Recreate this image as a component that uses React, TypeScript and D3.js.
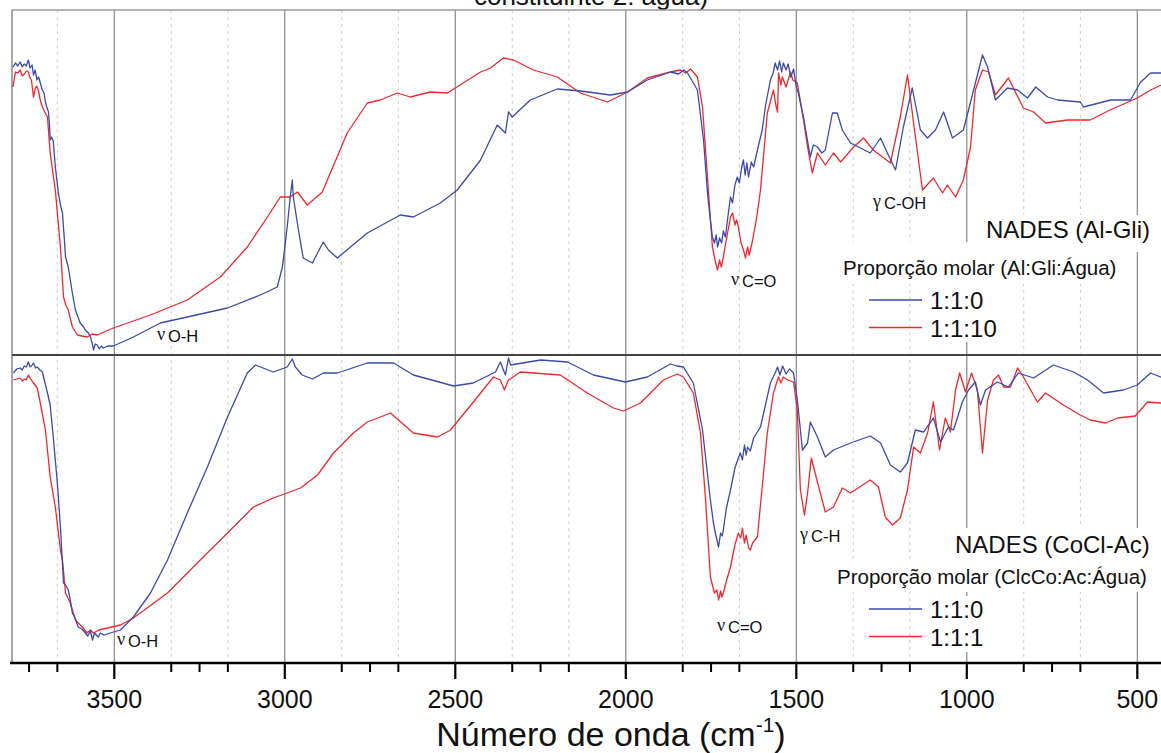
import React from 'react';
import * as d3 from 'd3';

type Pt = [number, number];

// FTIR spectra: [wavenumber (cm-1), transmittance (a.u.)]
// Panel 1 — NADES (Al-Gli), molar ratio Al:Gli:Água
const alGli110: Pt[] = [
  [3797, 288], [3790, 292], [3783, 289], [3776, 293], [3770, 288], [3764, 291], [3758, 289], [3752, 295],
  [3747, 287], [3741, 290], [3737, 280], [3732, 285], [3727, 275], [3722, 278], [3717, 272], [3711, 265],
  [3706, 262], [3702, 253], [3698, 248], [3693, 243], [3690, 230], [3688, 215], [3684, 218], [3679, 214],
  [3673, 188], [3664, 162], [3658, 150], [3652, 142], [3647, 118], [3643, 98], [3635, 88], [3629, 75],
  [3623, 62], [3614, 45], [3600, 32], [3590, 28], [3585, 25], [3576, 22], [3570, 18], [3565, 12],
  [3561, 5], [3556, 11], [3550, 10], [3544, 6], [3538, 9], [3532, 7], [3520, 9], [3503, 9],
  [3444, 18], [3365, 32], [3286, 38], [3168, 47], [3072, 60], [3022, 68], [3007, 88], [2993, 128],
  [2984, 158], [2978, 175], [2975, 158], [2960, 125], [2946, 97], [2919, 92], [2904, 102], [2887, 113],
  [2872, 105], [2846, 97], [2758, 122], [2661, 140], [2623, 138], [2544, 152], [2494, 165], [2426, 195],
  [2377, 230], [2353, 222], [2344, 243], [2333, 238], [2280, 255], [2201, 266], [2133, 264], [2045, 260],
  [1995, 263], [1937, 275], [1869, 283], [1845, 281], [1830, 285], [1819, 282], [1790, 265], [1772, 215],
  [1760, 160], [1752, 135], [1746, 118], [1740, 112], [1735, 120], [1731, 108], [1725, 117], [1719, 112],
  [1714, 124], [1708, 118], [1700, 140], [1693, 158], [1687, 152], [1680, 170], [1673, 178], [1667, 172],
  [1660, 188], [1655, 195], [1650, 180], [1645, 192], [1640, 178], [1632, 193], [1625, 188], [1614, 205],
  [1600, 225], [1590, 250], [1576, 275], [1568, 282], [1562, 292], [1555, 285], [1549, 294], [1543, 283],
  [1538, 292], [1530, 285], [1524, 291], [1516, 278], [1508, 286], [1500, 268], [1494, 262], [1479, 238],
  [1459, 198], [1450, 210], [1438, 208], [1425, 202], [1415, 205], [1394, 242], [1380, 242], [1365, 225],
  [1341, 212], [1283, 202], [1253, 217], [1233, 202], [1209, 185], [1186, 228], [1160, 267], [1136, 225],
  [1115, 217], [1092, 225], [1068, 243], [1042, 217], [1010, 225], [980, 265], [954, 300], [939, 288],
  [916, 255], [881, 267], [851, 265], [822, 257], [798, 268], [763, 258], [734, 255], [667, 253],
  [658, 248], [578, 255], [520, 255], [490, 273], [461, 282], [417, 282],
];

const alGli1110: Pt[] = [
  [3797, 268], [3790, 283], [3783, 282], [3776, 285], [3770, 279], [3764, 281], [3758, 284], [3752, 283],
  [3747, 277], [3743, 275], [3737, 258], [3732, 266], [3728, 269], [3723, 265], [3717, 255], [3711, 248],
  [3704, 243], [3696, 238], [3688, 202], [3673, 165], [3658, 108], [3649, 58], [3642, 50], [3635, 45],
  [3623, 28], [3608, 20], [3595, 19], [3579, 18], [3565, 21], [3550, 20], [3530, 23], [3503, 27],
  [3394, 40], [3286, 55], [3189, 78], [3110, 108], [3051, 138], [3013, 158], [2984, 158], [2963, 163],
  [2934, 150], [2890, 163], [2817, 222], [2758, 252], [2720, 255], [2670, 262], [2632, 258], [2573, 263],
  [2523, 262], [2426, 283], [2397, 287], [2359, 297], [2329, 295], [2271, 285], [2201, 278], [2133, 262],
  [2054, 253], [1995, 263], [1937, 277], [1869, 283], [1840, 285], [1825, 282], [1810, 286], [1790, 278],
  [1775, 248], [1760, 175], [1746, 108], [1735, 90], [1731, 85], [1725, 95], [1720, 88], [1714, 98],
  [1708, 110], [1700, 125], [1693, 138], [1687, 142], [1680, 130], [1675, 135], [1670, 128], [1662, 112],
  [1655, 105], [1649, 97], [1643, 108], [1638, 100], [1628, 115], [1615, 140], [1605, 165], [1585, 242],
  [1567, 265], [1560, 250], [1555, 243], [1552, 282], [1545, 270], [1541, 278], [1530, 268], [1517, 283],
  [1510, 275], [1497, 272], [1479, 235], [1467, 208], [1453, 182], [1438, 202], [1415, 190], [1391, 202],
  [1370, 193], [1332, 208], [1303, 217], [1274, 205], [1224, 192], [1195, 238], [1174, 280], [1156, 232],
  [1130, 165], [1098, 177], [1071, 162], [1057, 170], [1033, 158], [1010, 175], [989, 208], [975, 265],
  [954, 285], [936, 283], [916, 260], [878, 277], [834, 247], [804, 243], [769, 232], [705, 235],
  [638, 235], [580, 245], [500, 257], [461, 265], [417, 272],
];

// Panel 2 — NADES (CoCl-Ac), molar ratio ClcCo:Ac:Água
const coclAc110: Pt[] = [
  [3796, 290], [3786, 294], [3776, 295], [3770, 293], [3764, 297], [3758, 296], [3752, 301], [3747, 296],
  [3743, 297], [3737, 300], [3731, 295], [3726, 296], [3718, 293], [3711, 291], [3696, 270], [3688, 258],
  [3679, 226], [3667, 180], [3658, 136], [3649, 80], [3643, 78], [3635, 73], [3630, 65], [3623, 50],
  [3615, 45], [3606, 36], [3595, 34], [3585, 30], [3578, 27], [3570, 32], [3564, 23], [3558, 30],
  [3553, 28], [3547, 26], [3541, 30], [3530, 28], [3512, 30], [3482, 33], [3444, 46], [3394, 70],
  [3344, 103], [3286, 150], [3227, 196], [3168, 246], [3110, 290], [3086, 298], [3034, 291], [2993, 296],
  [2978, 304], [2969, 296], [2949, 288], [2919, 284], [2887, 290], [2846, 290], [2758, 300], [2681, 300],
  [2623, 288], [2505, 277], [2447, 280], [2382, 291], [2368, 301], [2353, 288], [2344, 305], [2338, 298],
  [2250, 303], [2171, 301], [2095, 288], [2001, 281], [1937, 286], [1869, 299], [1850, 297], [1831, 296],
  [1802, 280], [1775, 233], [1752, 163], [1743, 140], [1736, 128], [1728, 116], [1722, 130], [1717, 127],
  [1714, 133], [1705, 155], [1693, 173], [1680, 195], [1670, 205], [1664, 210], [1658, 203], [1652, 218],
  [1647, 208], [1643, 216], [1635, 212], [1625, 225], [1605, 236], [1576, 280], [1562, 290], [1555, 296],
  [1548, 288], [1540, 297], [1530, 289], [1520, 294], [1508, 290], [1497, 263], [1482, 213], [1467, 220],
  [1459, 241], [1438, 226], [1415, 206], [1391, 213], [1341, 220], [1283, 227], [1253, 220], [1224, 198],
  [1195, 191], [1174, 200], [1151, 233], [1127, 231], [1098, 245], [1077, 221], [1054, 236], [1039, 233],
  [1013, 261], [995, 273], [975, 281], [960, 258], [945, 273], [910, 281], [878, 276], [849, 290],
  [804, 285], [746, 298], [687, 291], [646, 283], [599, 270], [541, 273], [500, 278], [461, 290],
  [432, 286], [417, 288],
];

const coclAc111: Pt[] = [
  [3796, 283], [3786, 284], [3776, 285], [3770, 282], [3764, 284], [3758, 283], [3752, 288], [3745, 284],
  [3737, 280], [3726, 275], [3717, 260], [3702, 233], [3688, 186], [3673, 156], [3658, 113], [3652, 103],
  [3643, 70], [3629, 60], [3614, 43], [3600, 38], [3591, 35], [3580, 30], [3570, 33], [3561, 30],
  [3545, 33], [3520, 35], [3482, 38], [3444, 45], [3344, 70], [3248, 103], [3168, 130], [3092, 156],
  [3034, 165], [2993, 170], [2954, 175], [2904, 188], [2857, 210], [2799, 230], [2758, 241], [2690, 250],
  [2623, 230], [2552, 226], [2514, 233], [2447, 261], [2388, 286], [2368, 283], [2356, 273], [2344, 283],
  [2309, 291], [2192, 288], [2113, 270], [2036, 255], [2007, 252], [1957, 260], [1890, 283], [1849, 289],
  [1831, 286], [1802, 270], [1781, 230], [1766, 163], [1752, 86], [1740, 70], [1733, 73], [1728, 63],
  [1722, 72], [1718, 66], [1714, 70], [1705, 82], [1693, 96], [1680, 118], [1670, 130], [1663, 125],
  [1658, 135], [1652, 120], [1647, 128], [1640, 115], [1635, 113], [1628, 120], [1614, 126], [1585, 230],
  [1567, 270], [1558, 280], [1552, 286], [1545, 280], [1538, 286], [1525, 283], [1508, 281], [1497, 253],
  [1488, 173], [1476, 148], [1467, 170], [1456, 205], [1438, 181], [1415, 151], [1391, 156], [1365, 175],
  [1341, 170], [1283, 183], [1259, 176], [1239, 146], [1218, 138], [1195, 145], [1174, 173], [1156, 216],
  [1136, 210], [1115, 230], [1098, 261], [1080, 213], [1063, 245], [1048, 231], [1033, 273], [1021, 290],
  [1004, 271], [986, 290], [969, 273], [954, 210], [939, 263], [922, 283], [907, 288], [892, 276],
  [872, 276], [851, 295], [834, 286], [793, 261], [769, 270], [717, 258], [667, 248], [638, 243],
  [593, 240], [558, 245], [506, 247], [470, 261], [432, 260], [417, 260],
];

const majorTicks = [3500, 3000, 2500, 2000, 1500, 1000, 500];
const minorTicks = [
  3750, 3667, 3333, 3250, 3167, 2833, 2750, 2667, 2333, 2250, 2167,
  1833, 1750, 1667, 1333, 1250, 1167, 833, 750, 667,
];
const dottedGrid = [3667, 3333, 3167, 2833, 2667, 2333, 2167, 1833, 1667, 1333, 1167, 833, 667];

const panel1Series = [
  { name: '1:1:0', data: alGli110, color: '#3c4aa8' },
  { name: '1:1:10', data: alGli1110, color: '#ee2a2f' },
];
const panel2Series = [
  { name: '1:1:0', data: coclAc110, color: '#3c4aa8' },
  { name: '1:1:1', data: coclAc111, color: '#ee2a2f' },
];

const W = 1161;
const H = 753;
const LEFT = 12;
const TOP = 10;
const MID = 355;
const BOTTOM = 663;
const PX_PER_CM = 0.341;

const SANS = "'Liberation Sans', Arial, Helvetica, sans-serif";
const SERIF = "'Liberation Serif', 'Times New Roman', serif";

const x = d3.scaleLinear().domain([3800, 400]).range([LEFT, LEFT + 3400 * PX_PER_CM]);
const yTop = d3.scaleLinear().domain([0, 345]).range([MID, TOP]);
const yBot = d3.scaleLinear().domain([0, 308]).range([BOTTOM, MID]);

function linePath(data: Pt[], y: d3.ScaleLinear<number, number>) {
  return d3.line<Pt>().x((d) => x(d[0])).y((d) => y(d[1]))(data) || '';
}

function Band({ px, py, greek, group }: { px: number; py: number; greek: string; group: string }) {
  return (
    <g>
      <text x={px} y={py - 2} fontFamily={SERIF} fontSize={18} fill="#111">{greek}</text>
      <text x={px + 11} y={py} fontFamily={SANS} fontSize={16.5} fill="#111">{group}</text>
    </g>
  );
}

function Legend({
  title, subtitle, series, titleX, titleY, subX, subY, box,
}: {
  title: string; subtitle: string; series: { name: string; color: string }[];
  titleX: number; titleY: number; subX: number; subY: number;
  box: { t: [number, number, number, number]; s: [number, number, number, number]; i: [number, number, number, number][] };
}) {
  return (
    <g>
      <rect x={box.t[0]} y={box.t[1]} width={box.t[2]} height={box.t[3]} fill="#fff" />
      <rect x={box.s[0]} y={box.s[1]} width={box.s[2]} height={box.s[3]} fill="#fff" />
      {box.i.map((b, k) => (
        <rect key={k} x={b[0]} y={b[1]} width={b[2]} height={b[3]} fill="#fff" />
      ))}
      <text x={titleX} y={titleY} fontFamily={SANS} fontSize={24} fill="#111">{title}</text>
      <text x={subX} y={subY} fontFamily={SANS} fontSize={20.5} fill="#111">{subtitle}</text>
      {series.map((s, k) => {
        const ly = subY + 25 + k * 27.5;
        return (
          <g key={s.name}>
            <line x1={869} x2={922} y1={ly} y2={ly} stroke={s.color} strokeWidth={1.4} />
            <text x={930} y={ly + 9} fontFamily={SANS} fontSize={24} fill="#111">{s.name}</text>
          </g>
        );
      })}
    </g>
  );
}

export default function App() {
  const plotRight = W + 20;
  return (
    <svg
      width={W}
      height={H}
      viewBox={`0 0 ${W} ${H}`}
      style={{ position: 'absolute', left: 0, top: 0, background: '#fff' }}
    >
      <defs>
        <clipPath id="plot-area">
          <rect x={LEFT} y={TOP} width={plotRight - LEFT} height={BOTTOM - TOP} />
        </clipPath>
      </defs>
      <rect x={0} y={0} width={W} height={H} fill="#fff" />

      {/* chart heading, only its lower line falls inside the canvas */}
      <text x={591} y={5} textAnchor="middle" fontFamily={SANS} fontSize={26} fill="#111">
        constituinte 2: água)
      </text>

      {/* grid */}
      {dottedGrid.map((w) => (
        <line key={`d${w}`} x1={x(w)} x2={x(w)} y1={TOP} y2={BOTTOM} stroke="#cdcdcd" strokeWidth={1} strokeDasharray="3 4" />
      ))}
      {majorTicks.map((w) => (
        <line key={`g${w}`} x1={x(w)} x2={x(w)} y1={TOP} y2={BOTTOM} stroke="#888" strokeWidth={1.2} />
      ))}

      {/* frame */}
      <line x1={LEFT} x2={plotRight} y1={TOP} y2={TOP} stroke="#9a9a9a" strokeWidth={1.5} />
      <line x1={LEFT} x2={LEFT} y1={TOP} y2={BOTTOM} stroke="#8a8a8a" strokeWidth={1.5} />

      {/* spectra */}
      <g clipPath="url(#plot-area)" fill="none" strokeWidth={1.3} strokeLinejoin="round">
        {panel1Series.slice().reverse().map((s) => (
          <path key={`p1${s.name}`} d={linePath(s.data, yTop)} stroke={s.color} />
        ))}
        {panel2Series.slice().reverse().map((s) => (
          <path key={`p2${s.name}`} d={linePath(s.data, yBot)} stroke={s.color} />
        ))}
      </g>

      {/* panel divider */}
      <line x1={LEFT} x2={plotRight} y1={MID} y2={MID} stroke="#444" strokeWidth={2} />

      {/* band assignments */}
      <Band px={157} py={342} greek="ν" group="O-H" />
      <Band px={731} py={287} greek="ν" group="C=O" />
      <Band px={873} py={209} greek="γ" group="C-OH" />
      <Band px={117} py={647} greek="ν" group="O-H" />
      <Band px={717} py={633} greek="ν" group="C=O" />
      <Band px={800} py={542} greek="γ" group="C-H" />

      <Legend
        title="NADES (Al-Gli)"
        subtitle="Proporção molar (Al:Gli:Água)"
        series={panel1Series}
        titleX={986}
        titleY={238}
        subX={843}
        subY={275}
        box={{ t: [980, 215, 190, 37], s: [838, 242, 284, 42], i: [[926, 284, 64, 30], [926, 314, 77, 28]] }}
      />
      <Legend
        title="NADES (CoCl-Ac)"
        subtitle="Proporção molar (ClcCo:Ac:Água)"
        series={panel2Series}
        titleX={955}
        titleY={553}
        subX={837}
        subY={584}
        box={{ t: [950, 528, 220, 32], s: [832, 560, 322, 32], i: [[926, 596, 64, 28], [926, 624, 60, 28]] }}
      />

      {/* x axis */}
      <line x1={LEFT - 2} x2={plotRight} y1={BOTTOM} y2={BOTTOM} stroke="#000" strokeWidth={2.5} />
      {minorTicks.map((w) => (
        <line key={`m${w}`} x1={x(w)} x2={x(w)} y1={BOTTOM} y2={BOTTOM + 9} stroke="#000" strokeWidth={2} />
      ))}
      {majorTicks.map((w) => (
        <g key={`t${w}`}>
          <line x1={x(w)} x2={x(w)} y1={BOTTOM} y2={BOTTOM + 16} stroke="#000" strokeWidth={2.2} />
          <text x={x(w)} y={BOTTOM + 45} textAnchor="middle" fontFamily={SANS} fontSize={25} fill="#111">
            {w}
          </text>
        </g>
      ))}
      <text x={611} y={746} textAnchor="middle" fontFamily={SANS} fontSize={34} fill="#111">
        Número de onda (cm<tspan dy={-14} fontSize={21}>-1</tspan><tspan dy={14}>)</tspan>
      </text>
    </svg>
  );
}
